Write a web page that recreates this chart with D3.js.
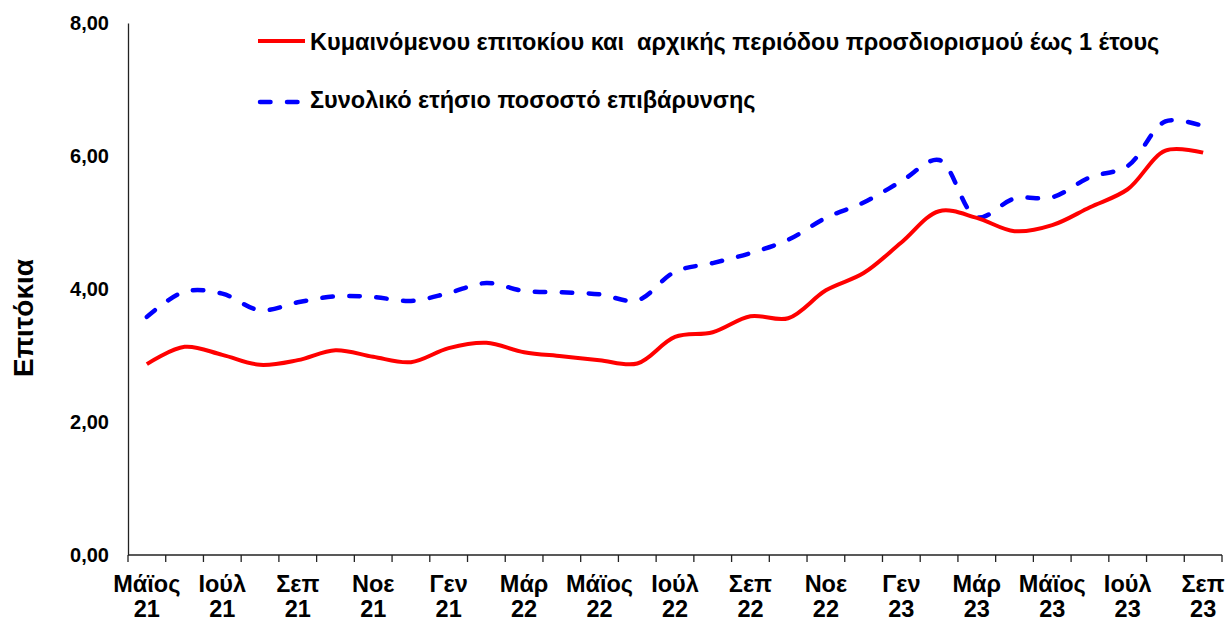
<!DOCTYPE html>
<html>
<head>
<meta charset="utf-8">
<script src="https://cdn.jsdelivr.net/npm/d3@7"></script>
<style>
  body { margin: 0; background: #fff; }
  svg { display: block; font-family: "Liberation Sans", Arial, sans-serif; font-weight: bold; }
</style>
</head>
<body>
<div id="chart"></div>
<script>
"use strict"

// monthly observations, May 2021 .. Sep 2023
const months = [
    "05/21", "06/21", "07/21", "08/21", "09/21", "10/21", "11/21", "12/21",
    "01/22", "02/22", "03/22", "04/22", "05/22", "06/22", "07/22", "08/22",
    "09/22", "10/22", "11/22", "12/22", "01/23", "02/23", "03/23", "04/23",
    "05/23", "06/23", "07/23", "08/23", "09/23"
];
// label shown under every second month
const monthNames = ["Μάϊος", "Ιούλ", "Σεπ", "Νοε", "Γεν", "Μάρ", "Μάϊος", "Ιούλ", "Σεπ", "Νοε", "Γεν", "Μάρ", "Μάϊος", "Ιούλ", "Σεπ"];
const yearNames  = ["21", "21", "21", "21", "21", "22", "22", "22", "22", "22", "23", "23", "23", "23", "23"];

const floatingRate = [2.87, 3.13, 3.01, 2.86, 2.93, 3.08, 2.98, 2.90, 3.11, 3.19, 3.05, 2.99, 2.93, 2.88, 3.28,
                      3.35, 3.59, 3.56, 3.98, 4.24, 4.70, 5.17, 5.07, 4.87, 4.96, 5.23, 5.50, 6.08, 6.05];
const totalCharge  = [3.58, 3.96, 3.93, 3.68, 3.80, 3.89, 3.88, 3.82, 3.94, 4.09, 3.97, 3.95, 3.92, 3.83, 4.26,
                      4.39, 4.54, 4.74, 5.07, 5.30, 5.62, 5.94, 5.08, 5.36, 5.38, 5.68, 5.85, 6.52, 6.45];
const yTicks = [0, 2, 4, 6, 8];

const seriesNames = [
    "Κυμαινόμενου επιτοκίου και  αρχικής περιόδου προσδιορισμού έως 1 έτους",
    "Συνολικό ετήσιο ποσοστό επιβάρυνσης"
];

const width = 1226;
const height = 623;
const plotLeft = 128;
const plotRight = 1222;
const plotTop = 23;
const plotBottom = 555;

const svg = d3.select("#chart").append("svg")
    .attr("width", width)
    .attr("height", height);

const x = d3.scaleBand()
    .domain(months)
    .range([plotLeft, plotRight]);

const y = d3.scaleLinear()
    .domain([0, 8])
    .range([plotBottom, plotTop]);

const fmt = v => d3.format(".2f")(v).replace(".", ",");

// y axis
const yAxis = svg.append("g")
    .attr("transform", `translate(${plotLeft},0)`)
    .call(d3.axisLeft(y).tickValues(yTicks).tickFormat(fmt).tickSize(0).tickPadding(19));
yAxis.select(".domain").attr("stroke", "#222").attr("stroke-width", 1.3);
yAxis.selectAll("text")
    .attr("font-size", "20px")
    .attr("font-family", "Liberation Sans, Arial, sans-serif")
    .attr("font-weight", "bold")
    .attr("fill", "#000");

// x axis line and tick marks on the band edges
svg.append("line")
    .attr("x1", plotLeft).attr("x2", plotRight)
    .attr("y1", plotBottom).attr("y2", plotBottom)
    .attr("stroke", "#222").attr("stroke-width", 1.3);

const edges = months.map(m => x(m)).concat([x(months[months.length - 1]) + x.bandwidth()]);
svg.append("g").selectAll("line")
    .data(edges)
    .join("line")
        .attr("x1", d => d).attr("x2", d => d)
        .attr("y1", plotBottom).attr("y2", plotBottom + 7)
        .attr("stroke", "#222").attr("stroke-width", 1.3);

const labelMonths = months.filter((_, i) => i % 2 == 0);
const xLabels = svg.append("g").selectAll("text")
    .data(labelMonths)
    .join("text")
        .attr("x", d => x(d) + x.bandwidth() / 2)
        .attr("y", 592)
        .attr("text-anchor", "middle")
        .attr("font-size", "23.5px");
xLabels.append("tspan")
    .attr("x", d => x(d) + x.bandwidth() / 2)
    .text((_, i) => monthNames[i]);
xLabels.append("tspan")
    .attr("x", d => x(d) + x.bandwidth() / 2)
    .attr("dy", 25)
    .text((_, i) => yearNames[i]);

// y title
svg.append("text")
    .attr("transform", "translate(33,318) rotate(-90)")
    .attr("text-anchor", "middle")
    .attr("font-size", "28px")
    .text("Επιτόκια");

// lines
const line = d3.line()
    .x((_, i) => x(months[i]) + x.bandwidth() / 2)
    .y(d => y(d))
    .curve(d3.curveCatmullRom.alpha(0.5));

svg.append("path")
    .datum(totalCharge)
    .attr("d", line)
    .attr("fill", "none")
    .attr("stroke", "#0000ff")
    .attr("stroke-width", 4.5)
    .attr("stroke-linecap", "round")
    .attr("stroke-dasharray", "10.5,16.5");

svg.append("path")
    .datum(floatingRate)
    .attr("d", line)
    .attr("fill", "none")
    .attr("stroke", "#ff0000")
    .attr("stroke-width", 4);

// legend
const legend = svg.append("g");
legend.append("line")
    .attr("x1", 258).attr("x2", 305)
    .attr("y1", 41).attr("y2", 41)
    .attr("stroke", "#ff0000").attr("stroke-width", 4);
legend.append("line")
    .attr("x1", 260).attr("x2", 300)
    .attr("y1", 102).attr("y2", 102)
    .attr("stroke", "#0000ff").attr("stroke-width", 4.5)
    .attr("stroke-linecap", "round")
    .attr("stroke-dasharray", "10.5,16.5");
legend.selectAll("text")
    .data(seriesNames)
    .join("text")
        .attr("x", 310)
        .attr("y", (_, i) => 50 + i * 58)
        .attr("font-size", "23.5px")
        .style("white-space", "pre")
        .text(d => d);
</script>
</body>
</html>
